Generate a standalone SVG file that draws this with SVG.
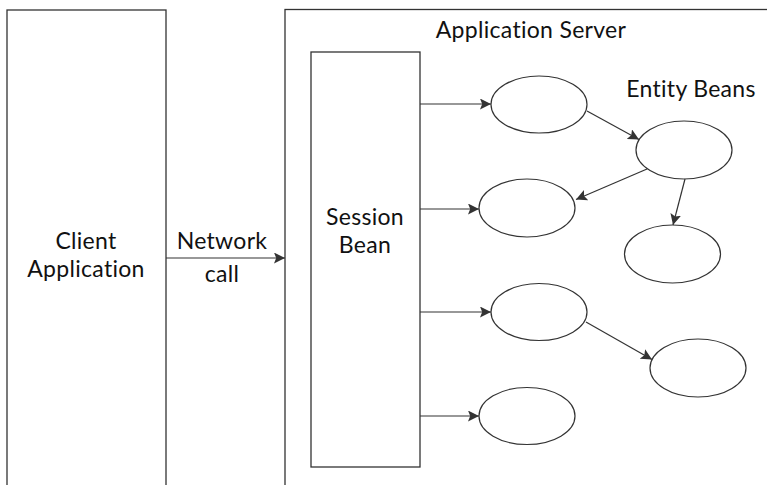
<svg xmlns="http://www.w3.org/2000/svg" width="767" height="485" viewBox="0 0 767 485">
<style>
.box{fill:#fff;stroke:#333;stroke-width:1.3}
.ell{fill:#fff;stroke:#333;stroke-width:1.2}
.con{fill:none;stroke:#333;stroke-width:1.2}
text{font-family:Lato,"Liberation Sans",sans-serif;font-size:23px;letter-spacing:0.3px;fill:#111;text-anchor:middle}
</style>
<defs>
<marker id="arr" viewBox="0 0 10 10" refX="10" refY="5" markerWidth="11" markerHeight="11" markerUnits="userSpaceOnUse" orient="auto">
<path d="M0,0 L10,5 L0,10 L2,5 Z" fill="#333"/>
</marker>
</defs>
<rect width="767" height="485" fill="#fff"/>
<g id="client">
<rect class="box" x="7" y="10" width="159" height="490"/>
<text x="86" y="249">Client</text>
<text x="86" y="277">Application</text>
</g>
<g id="server">
<rect class="box" x="285" y="9.5" width="500" height="490"/>
<text x="531" y="38">Application Server</text>
<text x="691" y="97">Entity Beans</text>
</g>
<g id="session">
<rect class="box" x="311" y="52" width="109" height="415"/>
<text x="365" y="225">Session</text>
<text x="365" y="253">Bean</text>
</g>
<g id="e1"><ellipse class="ell" cx="539" cy="104.5" rx="48" ry="28.5"/></g>
<g id="e2"><ellipse class="ell" cx="684" cy="150" rx="48" ry="29"/></g>
<g id="e3"><ellipse class="ell" cx="527" cy="208" rx="48" ry="29"/></g>
<g id="e4"><ellipse class="ell" cx="672.5" cy="254" rx="48" ry="29"/></g>
<g id="e5"><ellipse class="ell" cx="539" cy="312" rx="48" ry="28.5"/></g>
<g id="e6"><ellipse class="ell" cx="698" cy="368" rx="48" ry="29"/></g>
<g id="e7"><ellipse class="ell" cx="527" cy="416" rx="48" ry="28.5"/></g>
<g id="connectors">
<line class="con" x1="166" y1="258" x2="285" y2="258" marker-end="url(#arr)"/>
<text x="222" y="249">Network</text>
<text x="222" y="282">call</text>
<line class="con" x1="420" y1="104" x2="491" y2="104" marker-end="url(#arr)"/>
<line class="con" x1="420" y1="209" x2="479" y2="209" marker-end="url(#arr)"/>
<line class="con" x1="420" y1="312" x2="491" y2="312" marker-end="url(#arr)"/>
<line class="con" x1="420" y1="416" x2="479" y2="416" marker-end="url(#arr)"/>
<line class="con" x1="587" y1="111" x2="639" y2="139.5" marker-end="url(#arr)"/>
<line class="con" x1="647" y1="169" x2="576" y2="199.5" marker-end="url(#arr)"/>
<line class="con" x1="685" y1="179" x2="673" y2="225" marker-end="url(#arr)"/>
<line class="con" x1="586" y1="322" x2="652" y2="359.5" marker-end="url(#arr)"/>
</g>
</svg>
